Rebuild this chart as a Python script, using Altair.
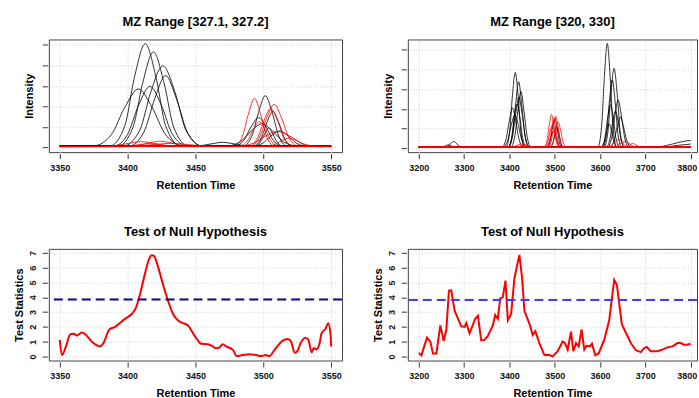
import altair as alt
import pandas as pd

# ---------------- data ----------------
# Top-left panel: MZ Range [327.1, 327.2]; one list of (x) and (y) per trace
TL_COLORS = ["black"] * 13 + ["red"] * 10
TL_X = [
    [3350, 3387, 3398, 3405, 3413, 3421, 3428, 3439, 3550],
    [3350, 3393, 3404, 3411, 3419, 3427, 3434, 3445, 3550],
    [3350, 3397, 3409, 3417, 3426, 3435, 3443, 3455, 3550],
    [3350, 3401, 3412, 3420, 3428, 3436, 3444, 3455, 3550],
    [3350, 3375, 3388, 3398, 3408, 3418, 3428, 3441, 3550],
    [3350, 3390, 3400, 3408, 3416.5, 3425, 3433, 3444, 3550],
    [3350, 3485, 3491.5, 3496.5, 3501.5, 3506.5, 3511.5, 3518, 3550],
    [3350, 3492, 3498, 3502.5, 3507, 3511.5, 3516, 3522, 3550],
    [3350, 3478.5, 3485.5, 3491, 3496.5, 3502, 3507.5, 3514.5, 3550],
    [3350, 3472, 3483, 3491, 3499, 3507, 3515, 3526, 3550],
    [3350, 3493.5, 3497.5, 3501, 3504, 3507, 3510.5, 3514.5, 3550],
    [3350, 3446, 3455.5, 3463, 3470, 3477, 3484.5, 3494, 3550],
    [3350, 3491, 3499.5, 3505.5, 3512, 3518.5, 3524.5, 3533, 3550],
    [3350, 3478.5, 3484.5, 3489, 3493.5, 3498, 3502.5, 3508.5, 3550],
    [3350, 3490, 3497, 3502.5, 3508, 3513.5, 3519, 3526, 3550],
    [3350, 3489, 3495.5, 3500.5, 3505.5, 3510.5, 3515.5, 3522, 3550],
    [3350, 3480.5, 3492.5, 3501.5, 3510.5, 3519.5, 3528.5, 3540.5, 3550],
    [3350, 3482, 3488, 3492.5, 3497, 3501.5, 3506, 3512, 3550],
    [3350, 3380, 3392, 3401, 3410, 3419, 3428, 3440, 3550],
    [3350, 3397, 3408, 3416, 3424, 3432, 3440, 3451, 3550],
    [3350, 3396, 3410.5, 3421, 3432, 3443, 3453.5, 3468, 3550],
    [3350, 3501, 3508, 3513.5, 3519, 3524.5, 3530, 3537, 3550],
    [3350, 3392, 3401.5, 3409, 3416, 3423, 3430.5, 3440, 3550],
]
TL_Y = [
    [0.07, 0.07, 1.06, 3.4, 5.05, 3.4, 1.06, 0.07, 0.05],
    [0.06, 0.06, 0.98, 3.1, 4.65, 3.1, 0.98, 0.06, 0.05],
    [0.08, 0.07, 0.84, 2.68, 3.97, 2.68, 0.84, 0.07, 0.06],
    [0.06, 0.06, 0.75, 2.37, 3.5, 2.37, 0.75, 0.06, 0.05],
    [0.09, 0.08, 0.62, 1.96, 2.85, 1.96, 0.62, 0.08, 0.06],
    [0.07, 0.07, 0.64, 2.04, 2.97, 2.04, 0.64, 0.07, 0.05],
    [0.05, 0.06, 0.54, 1.71, 2.52, 1.71, 0.54, 0.05, 0.05],
    [0.06, 0.05, 0.39, 1.19, 1.75, 1.19, 0.39, 0.05, 0.06],
    [0.05, 0.05, 0.33, 1.0, 1.45, 1.0, 0.33, 0.05, 0.05],
    [0.06, 0.06, 0.27, 0.79, 1.15, 0.79, 0.27, 0.06, 0.05],
    [0.05, 0.05, 0.23, 0.65, 0.95, 0.65, 0.23, 0.05, 0.05],
    [0.06, 0.06, 0.1, 0.19, 0.25, 0.19, 0.1, 0.06, 0.05],
    [0.05, 0.05, 0.2, 0.55, 0.8, 0.55, 0.2, 0.05, 0.06],
    [0.04, 0.05, 0.52, 1.62, 2.39, 1.62, 0.52, 0.05, 0.04],
    [0.05, 0.05, 0.46, 1.43, 2.1, 1.43, 0.46, 0.05, 0.04],
    [0.04, 0.05, 0.42, 1.3, 1.9, 1.3, 0.42, 0.05, 0.05],
    [0.05, 0.05, 0.2, 0.55, 0.78, 0.55, 0.2, 0.05, 0.04],
    [0.04, 0.05, 0.29, 0.86, 1.25, 0.86, 0.29, 0.05, 0.05],
    [0.05, 0.05, 0.1, 0.2, 0.28, 0.2, 0.1, 0.05, 0.04],
    [0.04, 0.05, 0.1, 0.22, 0.3, 0.22, 0.1, 0.05, 0.05],
    [0.05, 0.04, 0.08, 0.15, 0.2, 0.15, 0.08, 0.04, 0.04],
    [0.04, 0.05, 0.13, 0.33, 0.45, 0.33, 0.13, 0.05, 0.05],
    [0.05, 0.04, 0.07, 0.14, 0.18, 0.14, 0.07, 0.04, 0.05],
]

# Top-right panel: MZ Range [320, 330]
TR_COLORS = ["black"] * 22 + ["red"] * 10
TR_X = [
    [3200, 3392, 3400.5, 3406.5, 3413, 3419.5, 3425.5, 3434, 3800],
    [3200, 3398, 3407, 3414, 3420.5, 3427, 3434, 3443, 3800],
    [3200, 3403, 3412, 3419, 3425.5, 3432, 3439, 3448, 3800],
    [3200, 3383, 3392.5, 3400, 3407, 3414, 3421.5, 3431, 3800],
    [3200, 3396, 3404.5, 3410.5, 3417, 3423.5, 3429.5, 3438, 3800],
    [3200, 3397, 3406.5, 3414, 3421, 3428, 3435.5, 3445, 3800],
    [3200, 3385, 3396, 3404, 3412, 3420, 3428, 3439, 3800],
    [3200, 3483.5, 3490, 3495, 3500, 3505, 3510, 3516.5, 3800],
    [3200, 3490, 3496, 3500.5, 3505, 3509.5, 3514, 3520, 3800],
    [3200, 3479, 3486, 3491.5, 3497, 3502.5, 3508, 3515, 3800],
    [3200, 3595, 3603.5, 3609.5, 3616, 3622.5, 3628.5, 3637, 3800],
    [3200, 3608.5, 3617.5, 3624, 3631, 3638, 3644.5, 3653.5, 3800],
    [3200, 3606, 3614.5, 3620.5, 3627, 3633.5, 3639.5, 3648, 3800],
    [3200, 3616, 3625.5, 3633, 3640, 3647, 3654.5, 3664, 3800],
    [3200, 3602, 3610.5, 3616.5, 3623, 3629.5, 3635.5, 3644, 3800],
    [3200, 3613, 3621.5, 3627.5, 3634, 3640.5, 3646.5, 3655, 3800],
    [3200, 3621, 3630.5, 3638, 3645, 3652, 3659.5, 3669, 3800],
    [3200, 3602, 3609, 3614.5, 3620, 3625.5, 3631, 3638, 3800],
    [3200, 3256, 3264.5, 3270.5, 3277, 3283.5, 3289.5, 3298, 3800],
    [3200, 3247, 3254, 3259.5, 3265, 3270.5, 3276, 3283, 3800],
    [3200, 3700, 3730, 3760, 3790, 3800],
    [3200, 3740, 3770, 3800],
    [3200, 3476.5, 3483, 3488, 3493, 3498, 3503, 3509.5, 3800],
    [3200, 3486, 3492.5, 3497.5, 3502.5, 3507.5, 3512.5, 3519, 3800],
    [3200, 3489.5, 3496.5, 3502, 3507.5, 3513, 3518.5, 3525.5, 3800],
    [3200, 3483, 3489, 3493.5, 3498, 3502.5, 3507, 3513, 3800],
    [3200, 3477, 3484, 3489.5, 3495, 3500.5, 3506, 3513, 3800],
    [3200, 3613, 3624, 3632, 3640, 3648, 3656, 3667, 3800],
    [3200, 3625, 3637, 3646, 3655, 3664, 3673, 3685, 3800],
    [3200, 3648, 3657.5, 3665, 3672, 3679, 3686.5, 3696, 3800],
    [3200, 3401, 3410.5, 3418, 3425, 3432, 3439.5, 3449, 3800],
    [3200, 3408, 3419, 3427, 3435, 3443, 3451, 3462, 3800],
]
TR_Y = [
    [0.05, 0.05, 0.81, 2.6, 3.85, 2.6, 0.81, 0.05, 0.05],
    [0.05, 0.05, 0.72, 2.28, 3.38, 2.28, 0.72, 0.05, 0.05],
    [0.05, 0.05, 0.62, 1.95, 2.88, 1.95, 0.62, 0.05, 0.05],
    [0.05, 0.05, 0.45, 1.39, 2.05, 1.39, 0.45, 0.05, 0.05],
    [0.05, 0.05, 0.49, 1.53, 2.25, 1.53, 0.49, 0.05, 0.05],
    [0.05, 0.05, 0.56, 1.76, 2.6, 1.76, 0.56, 0.05, 0.05],
    [0.05, 0.05, 0.38, 1.16, 1.7, 1.16, 0.38, 0.05, 0.05],
    [0.05, 0.05, 0.35, 1.05, 1.55, 1.05, 0.35, 0.05, 0.05],
    [0.05, 0.05, 0.26, 0.75, 1.1, 0.75, 0.26, 0.05, 0.05],
    [0.05, 0.05, 0.21, 0.59, 0.85, 0.59, 0.21, 0.05, 0.05],
    [0.05, 0.05, 1.1, 3.58, 5.32, 3.58, 1.1, 0.05, 0.05],
    [0.05, 0.05, 0.85, 2.74, 4.06, 2.74, 0.85, 0.05, 0.05],
    [0.05, 0.05, 0.74, 2.34, 3.47, 2.34, 0.74, 0.05, 0.05],
    [0.05, 0.05, 0.53, 1.67, 2.46, 1.67, 0.53, 0.05, 0.05],
    [0.05, 0.05, 0.48, 1.5, 2.2, 1.5, 0.48, 0.05, 0.05],
    [0.05, 0.05, 0.42, 1.29, 1.9, 1.29, 0.42, 0.05, 0.05],
    [0.05, 0.05, 0.36, 1.09, 1.6, 1.09, 0.36, 0.05, 0.05],
    [0.05, 0.05, 0.29, 0.86, 1.25, 0.86, 0.29, 0.05, 0.05],
    [0.05, 0.05, 0.11, 0.25, 0.35, 0.25, 0.11, 0.05, 0.06],
    [0.05, 0.05, 0.08, 0.14, 0.18, 0.14, 0.08, 0.05, 0.05],
    [0.05, 0.05, 0.08, 0.22, 0.38, 0.4],
    [0.05, 0.06, 0.15, 0.22],
    [0.06, 0.06, 0.39, 1.17, 1.72, 1.17, 0.39, 0.06, 0.06],
    [0.06, 0.06, 0.37, 1.1, 1.62, 1.1, 0.37, 0.06, 0.06],
    [0.06, 0.06, 0.31, 0.93, 1.36, 0.93, 0.31, 0.06, 0.06],
    [0.06, 0.06, 0.33, 1.0, 1.45, 1.0, 0.33, 0.06, 0.06],
    [0.06, 0.06, 0.28, 0.82, 1.2, 0.82, 0.28, 0.06, 0.06],
    [0.06, 0.06, 0.13, 0.33, 0.45, 0.33, 0.13, 0.06, 0.06],
    [0.06, 0.06, 0.11, 0.26, 0.35, 0.26, 0.11, 0.06, 0.06],
    [0.06, 0.06, 0.09, 0.18, 0.25, 0.18, 0.09, 0.06, 0.06],
    [0.06, 0.06, 0.09, 0.16, 0.22, 0.16, 0.09, 0.06, 0.06],
    [0.06, 0.06, 0.08, 0.13, 0.18, 0.13, 0.08, 0.06, 0.06],
]

# Bottom-left: test statistic, range [327.1, 327.2]
BL_X = [3350, 3351.7, 3354.2, 3357.8, 3360.3, 3362.7, 3366.4, 3368.8, 3373.7, 3379.8,
        3382.2, 3386.6, 3390.8, 3398.1, 3403, 3406.2, 3409.1, 3412.8, 3415.9, 3417.6,
        3419.4, 3422.5, 3426.2, 3429.9, 3433.5, 3437.2, 3440.8, 3444.5, 3446.9, 3450.6,
        3454.3, 3459.2, 3462.8, 3465.3, 3467.7, 3470.1, 3472.6, 3477.5, 3480.4, 3484.8,
        3489.7, 3494.6, 3498.2, 3501.9, 3504.3, 3509.2, 3514.1, 3517.8, 3520.2, 3523.2,
        3525.1, 3527.5, 3531.2, 3533.2, 3535.6, 3537.3, 3539, 3541.5, 3542.9, 3545.9,
        3547.8, 3549.5, 3550]
BL_Y = [1.12, 0.09, 0.57, 1.5, 1.53, 1.42, 1.62, 1.5, 1.0, 0.68,
        0.9, 1.82, 2.0, 2.54, 2.87, 3.3, 4.18, 5.6, 6.6, 6.85,
        6.8, 6.04, 4.83, 3.74, 2.87, 2.43, 2.25, 2.1, 1.77, 1.23,
        0.85, 0.83, 0.68, 0.55, 0.61, 0.83, 0.68, 0.46, 0.02, 0.09,
        0.15, 0.09, 0.02, 0.09, 0.02, 0.57, 1.05, 1.18, 1.05, 0.24,
        0.35, 0.9, 1.27, 1.12, 0.28, 0.57, 0.46, 0.9, 1.55, 1.88,
        2.25, 1.55, 0.68]
BL_THRESHOLD = 3.85

# Bottom-right: test statistic, range [320, 330]
BR_X = [3200, 3205.9, 3218.3, 3225.7, 3231.5, 3238.9, 3247.7, 3255, 3260.9, 3266.7,
        3271.9, 3279.2, 3293.9, 3301.2, 3304.9, 3312.2, 3324.7, 3330.6, 3337.9, 3345.2,
        3352.6, 3363.6, 3368.7, 3374.6, 3379.7, 3385.6, 3391.4, 3396.6, 3403.9, 3411.2,
        3417.1, 3422.2, 3428.1, 3433.2, 3444.2, 3451.6, 3457.4, 3466.2, 3477.3, 3488.3,
        3495.6, 3506.6, 3517.6, 3522.8, 3528.6, 3536, 3541.1, 3547, 3552.8, 3559.4,
        3565.3, 3570.4, 3577.8, 3582.2, 3589.5, 3596.9, 3609.3, 3620.3, 3631.3, 3637.2,
        3648.2, 3660.7, 3668, 3679, 3690, 3697.4, 3703.2, 3712, 3726.7, 3737.7,
        3748.7, 3759.7, 3771, 3778, 3785.4, 3792.7, 3800]
BR_Y = [0.24, 0.07, 1.27, 1.0, 0.2, 0.2, 2.1, 1.05, 1.78, 4.45,
        4.47, 3.09, 2.04, 2.0, 2.26, 1.56, 2.55, 2.76, 1.08, 1.12,
        1.38, 2.1, 2.81, 2.55, 3.93, 4.02, 5.13, 2.44, 2.87, 5.29,
        6.17, 6.87, 5.29, 3.09, 2.22, 1.45, 1.71, 0.9, 0.09, 0.09,
        0.0, 0.35, 1.01, 0.9, 0.46, 1.67, 0.35, 0.9, 0.68, 1.82,
        0.46, 0.72, 0.68, 0.86, 0.07, 0.2, 1.12, 2.44, 5.18, 4.85,
        2.17, 1.38, 0.9, 0.42, 0.29, 0.57, 0.64, 0.35, 0.35, 0.46,
        0.61, 0.68, 0.9, 0.9, 0.79, 0.79, 0.86]
BR_THRESHOLD = 3.82

TL_TICKS = [3350, 3400, 3450, 3500, 3550]
TR_TICKS = [3200, 3300, 3400, 3500, 3600, 3700, 3800]
INTENSITY_TICKS = [0, 1, 2, 3, 4, 5]
STAT_TICKS = [0, 1, 2, 3, 4, 5, 6, 7]

FONT = "Liberation Sans"


def curves_frame(colors, xs, ys):
    rows = []
    for i, (c, xx, yy) in enumerate(zip(colors, xs, ys)):
        for j, (a, b) in enumerate(zip(xx, yy)):
            rows.append({"curve": f"c{i}", "k": j, "col": c, "x": a, "y": b})
    return pd.DataFrame(rows)


def x_axis(ticks, right):
    kw = dict(values=ticks, format="d", title="Retention Time")
    if right:
        kw["labelAlign"] = {"condition": {"test": "datum.value >= 3800", "value": "right"},
                            "value": "center"}
        kw["labelOffset"] = {"condition": {"test": "datum.value >= 3800", "value": 6},
                             "value": 0}
    return alt.Axis(**kw)


def panel_title(text):
    return alt.TitleParams(text=text, font=FONT, fontSize=13, fontWeight="bold",
                           color="black", offset=10, anchor="middle", frame="group")


def top_panel(df, title, xdom, ticks, ydom, width, right):
    x = alt.X("x:Q", scale=alt.Scale(domain=xdom, nice=False, zero=False),
              axis=x_axis(ticks, right))
    y = alt.Y("y:Q", scale=alt.Scale(domain=ydom, nice=False, zero=False),
              axis=alt.Axis(values=INTENSITY_TICKS, labels=False, title="Intensity",
                            titleX=-17.5))
    base = alt.Chart(df).encode(x=x, y=y, detail="curve:N", order="k:Q")
    black = base.transform_filter("datum.col == 'black'").mark_line(
        color="#000000", strokeWidth=0.8, interpolate="monotone")
    red = base.transform_filter("datum.col == 'red'").mark_line(
        color="#ff0000", strokeWidth=0.8, interpolate="monotone")
    return alt.layer(black, red).properties(width=width, height=113,
                                            title=panel_title(title))


def bottom_panel(xs, ys, thr, thr_color, xdom, ticks, width, interp, right):
    df = pd.DataFrame({"x": xs, "y": ys})
    x = alt.X("x:Q", scale=alt.Scale(domain=xdom, nice=False, zero=False),
              axis=x_axis(ticks, right))
    yscale = alt.Scale(domain=[-0.28, 7.28], nice=False, zero=False)
    yaxis = alt.Axis(values=STAT_TICKS, title="Test Statistics", titleX=-28)
    line = alt.Chart(df).mark_line(color="#ff0000", strokeWidth=2,
                                   interpolate=interp).encode(
        x=x, y=alt.Y("y:Q", scale=yscale, axis=yaxis))
    rule = alt.Chart(pd.DataFrame({"y": [thr]})).mark_rule(
        color=thr_color, strokeWidth=2, strokeDash=[9, 5]).encode(
        y=alt.Y("y:Q", scale=yscale, axis=yaxis))
    return alt.layer(line, rule).properties(width=width, height=112,
                                            title=panel_title("Test of Null Hypothesis"))


TL_DOMAIN = [3342, 3558]
TR_DOMAIN = [3176, 3814]

tl = top_panel(curves_frame(TL_COLORS, TL_X, TL_Y), "MZ Range [327.1, 327.2]",
               TL_DOMAIN, TL_TICKS, [-0.23, 5.26], 294, False)
tr = top_panel(curves_frame(TR_COLORS, TR_X, TR_Y), "MZ Range [320, 330]",
               TR_DOMAIN, TR_TICKS, [-0.19, 5.52], 290, True)
bl = bottom_panel(BL_X, BL_Y, BL_THRESHOLD, "#0b0b86", TL_DOMAIN, TL_TICKS, 294,
                  "monotone", False)
br = bottom_panel(BR_X, BR_Y, BR_THRESHOLD, "#3d3dff", TR_DOMAIN, TR_TICKS, 290,
                  "linear", True)

chart = alt.concat(tl, tr, bl, br, columns=2, spacing={"row": 97, "column": 66},
                   bounds="flush").properties(
    padding={"left": 12, "top": 15, "right": 0, "bottom": 0},
    background="white",
).configure_view(
    stroke="#444444", strokeWidth=1
).configure_axis(
    domain=False, offset=1.5, tickSize=5, tickColor="#333333", tickWidth=1,
    labelFont=FONT, labelFontSize=9, labelFontWeight="bold", labelColor="#111111",
    titleFont=FONT, titleFontSize=11, titleFontWeight="bold", titleColor="#000000",
    grid=True, gridColor="#cfcfcf", gridDash=[1, 2], gridWidth=1,
    labelFlush=False, labelOverlap=False,
).configure_axisX(
    labelPadding=5, titleY=25.5
).configure_axisY(
    labelPadding=4.5, labelAngle=270, labelAlign="center", labelBaseline="bottom",
    titleBaseline="middle"
)

chart.save("out.html", embed_options={"renderer": "svg", "actions": False})
